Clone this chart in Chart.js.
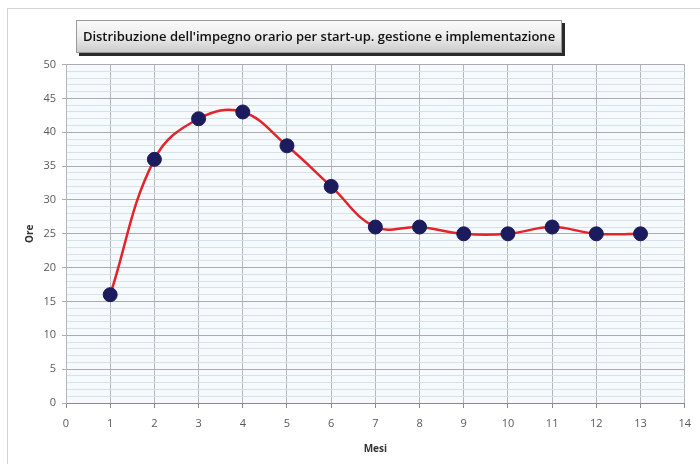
<!DOCTYPE html>
<html>
<head>
<meta charset="utf-8">
<script src="https://cdn.jsdelivr.net/npm/chart.js@4.4.1/dist/chart.umd.min.js"></script>
<style>
  html, body { margin: 0; padding: 0; background: #fff; }
  #wrap { width: 700px; height: 464px; }
</style>
</head>
<body>
<div id="wrap"><canvas id="myChart" width="700" height="464"></canvas></div>
<script>
// mesi e ore
var mesi = [1, 2, 3, 4, 5, 6, 7, 8, 9, 10, 11, 12, 13];
var ore = [16, 36, 42, 43, 38, 32, 26, 26, 25, 25, 26, 25, 25];
var titolo = "Distribuzione dell'impegno orario per start-up. gestione e implementazione";

var punti = mesi.map(function (m, i) { return { x: m, y: ore[i] }; });

// cornice esterna, sfondo area e riquadro del titolo
var sfondo = {
    id: 'sfondo',
    afterLayout: function (chart) {
        var t = chart.titleBlock;
        if (t) { t.left = 76; t.right = 562; }
    },
    beforeDraw: function (chart) {
        var ctx = chart.ctx;
        var a = chart.chartArea;
        ctx.save();
        ctx.fillStyle = '#fff';
        ctx.fillRect(0, 0, chart.width, chart.height);
        ctx.strokeStyle = '#d4d4d4';
        ctx.lineWidth = 1;
        ctx.strokeRect(7.5, 8.5, chart.width + 10, chart.height + 10);
        ctx.fillStyle = '#f6fafc';
        ctx.fillRect(a.left, a.top, a.right - a.left, a.bottom - a.top);
        // riquadro titolo
        ctx.fillStyle = '#2a2a2a';
        ctx.fillRect(79, 23, 486, 33);
        var g = ctx.createLinearGradient(0, 20, 0, 53);
        g.addColorStop(0, '#fbfbfb');
        g.addColorStop(0.5, '#ececec');
        g.addColorStop(1, '#c9c9c9');
        ctx.fillStyle = g;
        ctx.fillRect(76, 20, 486, 33);
        ctx.strokeStyle = '#9a9a9a';
        ctx.strokeRect(76.5, 20.5, 485, 32);
        ctx.restore();
    }
};

new Chart("myChart", {
    type: "line",
    data: {
        datasets: [{
            data: punti,
            borderColor: "#e3242b",
            borderWidth: 2.5,
            tension: 0.4,
            pointRadius: 7,
            pointHoverRadius: 7,
            pointBackgroundColor: "#1b1b5e",
            pointBorderColor: "#1b1b5e",
            pointBorderWidth: 1
        }]
    },
    plugins: [sfondo],
    options: {
        responsive: false,
        animation: false,
        events: [],
        layout: { padding: { left: 24, right: 15, top: 0, bottom: 9 } },
        plugins: {
            legend: { display: false },
            tooltip: { enabled: false },
            title: {
                display: true,
                text: titolo,
                color: "#111",
                font: { family: "'Open Sans', sans-serif", size: 13, weight: "600" },
                padding: { top: 29, bottom: 20 }
            }
        },
        scales: {
            x: {
                type: "linear",
                min: 0,
                max: 14,
                ticks: {
                    stepSize: 1,
                    color: "#595959",
                    font: { family: "'Open Sans', sans-serif", size: 11 },
                    padding: 9
                },
                grid: {
                    color: "#b4b8bc",
                    tickLength: 5,
                    tickColor: "#8a8a8a"
                },
                border: { color: "#8a8a8a", width: 1 },
                title: {
                    display: true,
                    text: "Mesi",
                    color: "#333",
                    font: { family: "'Open Sans', sans-serif", size: 10, weight: "bold" },
                    padding: { top: 6, bottom: 0 }
                },
                afterFit: function (s) { s.height = 52; }
            },
            y: {
                min: 0,
                max: 50,
                ticks: {
                    stepSize: 1,
                    autoSkip: false,
                    color: "#595959",
                    font: { family: "'Open Sans', sans-serif", size: 11 },
                    padding: 6,
                    callback: function (v) { return v % 5 === 0 ? v : ''; }
                },
                grid: {
                    color: function (c) { return c.tick && c.tick.value % 5 === 0 ? '#a9adb1' : '#d3e2ec'; },
                    tickLength: 4,
                    tickColor: function (c) { return c.tick && c.tick.value % 5 === 0 ? '#a9adb1' : 'rgba(0,0,0,0)'; }
                },
                border: { color: "#b4b8bc" },
                title: {
                    display: true,
                    text: "Ore",
                    color: "#333",
                    font: { family: "'Open Sans', sans-serif", size: 10, weight: "bold" },
                    padding: { top: 0, bottom: 6 }
                },
                afterFit: function (s) { s.width = 42; }
            }
        }
    }
});
</script>
</body>
</html>
